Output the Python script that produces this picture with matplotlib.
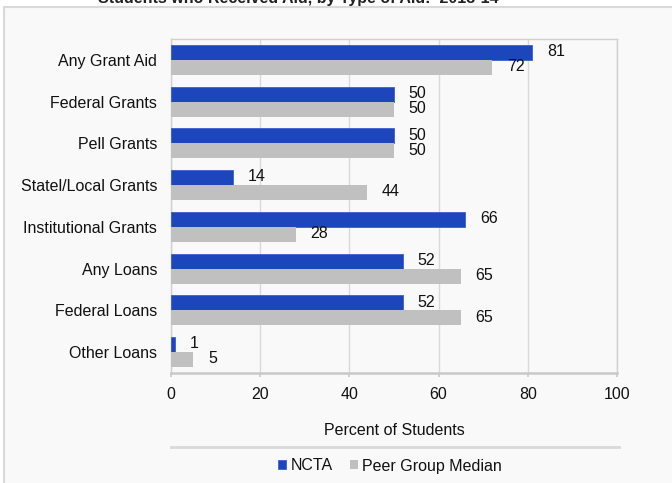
import matplotlib
matplotlib.use("Agg")
import matplotlib.pyplot as plt
from matplotlib.patches import Rectangle
from matplotlib.lines import Line2D
import numpy as np

plt.rcParams['font.family'] = ['Liberation Sans', 'DejaVu Sans']

categories = ["Any Grant Aid", "Federal Grants", "Pell Grants", "Statel/Local Grants",
              "Institutional Grants", "Any Loans", "Federal Loans", "Other Loans"]
ncta = [81, 50, 50, 14, 66, 52, 52, 1]
peer = [72, 50, 50, 44, 28, 65, 65, 5]
series_names = ["NCTA", "Peer Group Median"]
xticks = [0, 20, 40, 60, 80, 100]

blue = "#1d46bc"
gray = "#c0c0c0"
bg = "#f9f9f9"
line_gray = "#d9d9d9"
fs = 11.5

W, H = 672, 483
fig = plt.figure(figsize=(W / 100, H / 100), dpi=100)
fig.patch.set_facecolor("white")

# outer panel, drawn beneath everything else
panel = Rectangle((4 / W, -0.1), 1.2, (H - 7) / H + 0.1,
                  transform=fig.transFigure, facecolor=bg,
                  edgecolor=line_gray, linewidth=1.5, zorder=-10)
fig.add_artist(panel)

# title partly above the panel
fig.text(298 / W, 1 - 3.5 / H, "Students who Received Aid, by Type of Aid:  2013-14",
         ha="center", va="baseline", fontsize=11.5, fontweight="bold", color="#222222")

left, right, top, bottom = 171, 617, 39, 373
ax = fig.add_axes([left / W, 1 - bottom / H, (right - left) / W, (bottom - top) / H])
ax.set_zorder(1)
ax.set_facecolor(bg)

y = np.arange(len(categories))
h = 0.36
b1 = ax.barh(y - h / 2, ncta, height=h, color=blue, edgecolor="#3a5fd0", linewidth=0.6, zorder=3)
b2 = ax.barh(y + h / 2, peer, height=h, color=gray, linewidth=0, zorder=3)

for yi, v in zip(y, ncta):
    ax.annotate(str(v), (v, yi - h / 2), xytext=(10.5, 0.5), textcoords="offset points",
                ha="left", va="center", fontsize=fs, color="#111111")
for yi, v in zip(y, peer):
    ax.annotate(str(v), (v, yi + h / 2), xytext=(10.5, 0.5), textcoords="offset points",
                ha="left", va="center", fontsize=fs, color="#111111")

ax.set_xlim(0, 100)
ax.set_ylim(len(categories) - 0.5, -0.5)
ax.set_xticks(xticks)
ax.set_xticklabels([str(t) for t in xticks], fontsize=fs, color="#111111")
ax.set_yticks(y)
ax.set_yticklabels(categories, fontsize=fs, color="#111111")
ax.tick_params(axis="y", length=0, pad=10)
ax.tick_params(axis="x", length=3, color="#c8c8c8", width=1.2, pad=7)
ax.grid(axis="x", color=line_gray, linewidth=1, zorder=0)
ax.set_axisbelow(True)
for s in ["top", "right", "left"]:
    ax.spines[s].set_color("#d0d0d0")
    ax.spines[s].set_linewidth(1)
ax.spines["bottom"].set_color("#c8c8c8")
ax.spines["bottom"].set_linewidth(1.8)

ax.set_xlabel("Percent of Students", fontsize=fs, color="#111111", labelpad=15)

# separator above the legend
fig.add_artist(Line2D([171 / W, 619 / W], [1 - 447 / H, 1 - 447 / H],
                      transform=fig.transFigure, color=line_gray, linewidth=2))

leg = fig.legend([b1, b2], series_names, loc="center", bbox_to_anchor=(390 / W, 1 - 466 / H),
                 ncol=2, frameon=False, fontsize=fs, handlelength=0.5, handleheight=0.5,
                 handletextpad=0.25, columnspacing=1.1)
for t in leg.get_texts():
    t.set_color("#111111")

fig.savefig("out.png", dpi=100, facecolor=fig.get_facecolor())
